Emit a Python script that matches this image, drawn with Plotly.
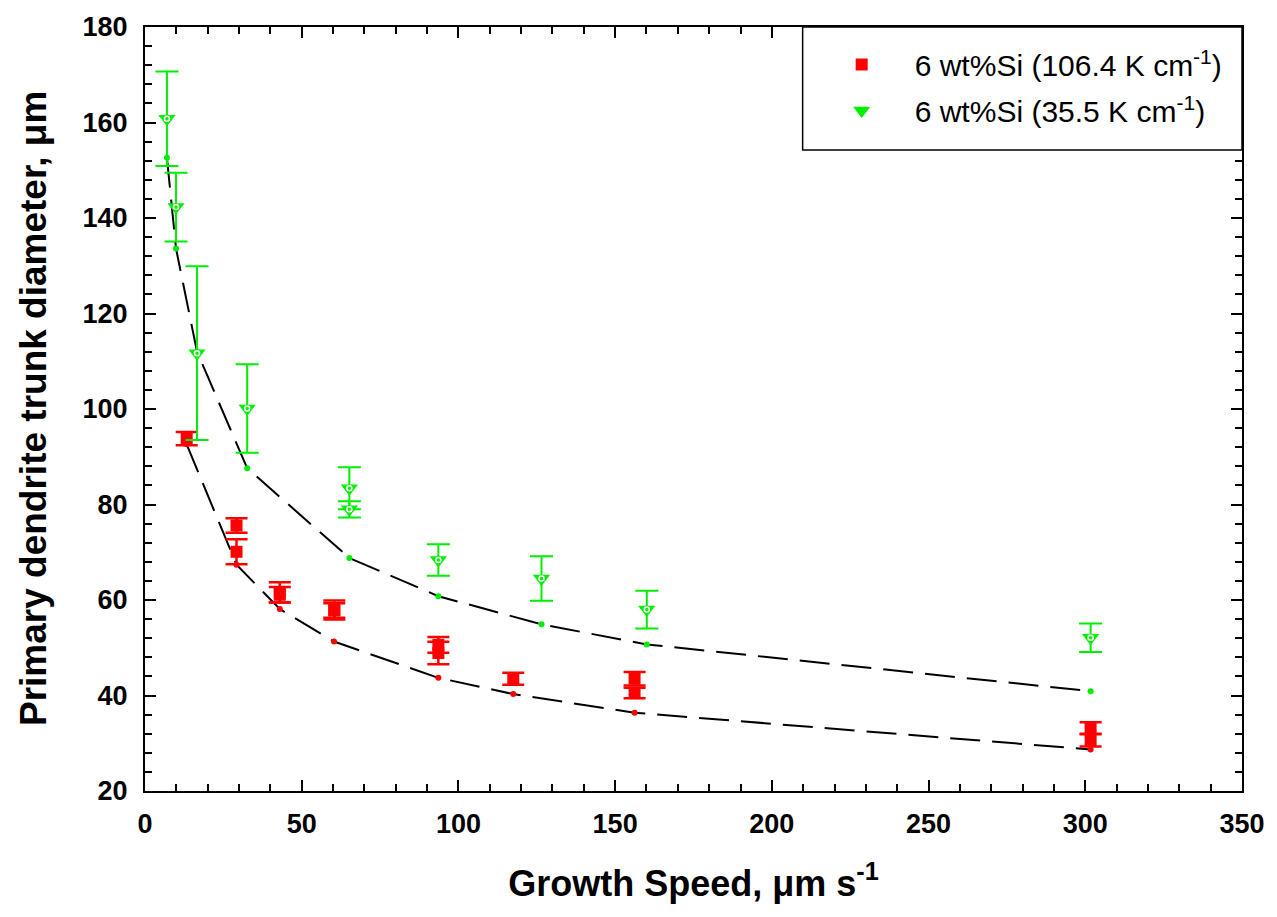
import plotly.graph_objects as go

# --- 6 wt%Si, G = 106.4 K/cm : measured trunk diameters (um) ---
red_speed = [13.3, 29.2, 29.2, 43.0, 43.0, 60.4, 60.4, 93.6, 93.6, 117.5, 156.2, 156.2, 301.7, 301.7]
red_diam = [93.8, 75.6, 70.1, 61.6, 61.1, 57.9, 57.8, 50.6, 48.9, 43.5, 43.5, 40.5, 33.2, 30.6]
red_err = [1.4, 1.5, 2.6, 2.1, 1.6, 2.0, 1.5, 1.65, 2.35, 1.25, 1.4, 1.1, 1.2, 1.3]

# --- 6 wt%Si, G = 35.5 K/cm : measured trunk diameters (um) ---
green_speed = [7.0, 9.9, 16.6, 32.6, 65.2, 65.2, 93.6, 126.5, 160.1, 301.7]
green_diam = [160.8, 142.3, 111.7, 100.1, 83.4, 79.0, 68.4, 64.5, 58.0, 52.1]
green_err = [9.9, 7.2, 18.2, 9.25, 4.4, 1.7, 3.3, 4.65, 3.95, 3.0]

# --- model curves (dashed) ---
red_fit_speed = [13.3, 29.2, 43.0, 60.3, 93.6, 117.5, 156.2, 301.7]
red_fit_diam = [92.6, 67.4, 58.1, 51.3, 43.7, 40.3, 36.4, 28.7]
green_fit_speed = [7.0, 9.9, 16.6, 32.6, 65.2, 93.6, 126.5, 160.1, 301.7]
green_fit_diam = [152.6, 133.6, 112.0, 87.6, 68.8, 60.8, 54.9, 50.7, 40.9]

RED = "#ff0000"
GREEN = "#00ee00"
FONT = "Liberation Sans, Arial, sans-serif"

fig = go.Figure()

dash = "30px,12px"
fig.add_trace(go.Scatter(
    x=green_fit_speed, y=green_fit_diam, mode="lines+markers",
    line=dict(color="black", width=2, dash=dash),
    marker=dict(color=GREEN, size=6), showlegend=False, hoverinfo="skip"))
fig.add_trace(go.Scatter(
    x=red_fit_speed, y=red_fit_diam, mode="lines+markers",
    line=dict(color="black", width=2, dash=dash),
    marker=dict(color=RED, size=6), showlegend=False, hoverinfo="skip"))

fig.add_trace(go.Scatter(
    x=red_speed, y=red_diam, mode="markers",
    name="6 wt%Si (106.4 K cm<sup>-1</sup>)", legendgroup="a",
    marker=dict(symbol="square", color=RED, size=12),
    error_y=dict(type="data", array=red_err, color=RED, thickness=2.5, width=11)))

fig.add_trace(go.Scatter(
    x=green_speed, y=green_diam, mode="markers",
    name="6 wt%Si (35.5 K cm<sup>-1</sup>)", legendgroup="b",
    marker=dict(symbol="triangle-down", color=GREEN, size=15),
    error_y=dict(type="data", array=green_err, color=GREEN, thickness=2, width=11.5)))
# white ring inside each triangle
fig.add_trace(go.Scatter(
    x=green_speed, y=green_diam, mode="markers", showlegend=False, hoverinfo="skip",
    marker=dict(symbol="circle-open", color="white", size=5, line=dict(width=1.5))))

axis_common = dict(
    showline=True, linecolor="black", linewidth=2, mirror="ticks",
    ticks="inside", tickcolor="black", tickwidth=2, ticklen=11,
    showgrid=False, zeroline=False,
    tickfont=dict(family=FONT, size=27, color="black", weight="bold"),
)

fig.update_xaxes(
    range=[0, 350], dtick=50, tick0=0,
    minor=dict(dtick=10, ticks="inside", ticklen=7, tickwidth=2, tickcolor="black"),
    ticklabelstandoff=8,
    title=dict(text="Growth Speed, μm s<sup>-1</sup>",
               font=dict(family=FONT, size=36, color="black", weight="bold"), standoff=32),
    **axis_common)
fig.update_yaxes(
    range=[20, 180], dtick=20, tick0=20,
    minor=dict(dtick=4, ticks="inside", ticklen=7, tickwidth=2, tickcolor="black"),
    ticklabelstandoff=10,
    **axis_common)

# y-axis title, rotated
fig.add_annotation(
    text="Primary dendrite trunk diameter, μm", textangle=-90,
    xref="paper", yref="paper", x=0, y=0.5, xanchor="center", yanchor="middle",
    xshift=-112, showarrow=False,
    font=dict(family=FONT, size=37, color="black", weight="bold"))

# legend frame
fig.add_shape(type="rect", xref="paper", yref="paper", x0=0.5995, x1=1.0, y0=0.839, y1=1.0,
              line=dict(color="black", width=1.5), fillcolor="white", layer="above")

fig.update_layout(
    width=1277, height=917,
    margin=dict(l=145, r=31, t=20, b=126),
    paper_bgcolor="white", plot_bgcolor="white",
    showlegend=True,
    legend=dict(x=0.605, y=0.985, xanchor="left", yanchor="top",
                bgcolor="rgba(0,0,0,0)", borderwidth=0,
                font=dict(family=FONT, size=30, color="black"),
                itemwidth=96, tracegroupgap=4),
)

fig.write_html("out.html")
